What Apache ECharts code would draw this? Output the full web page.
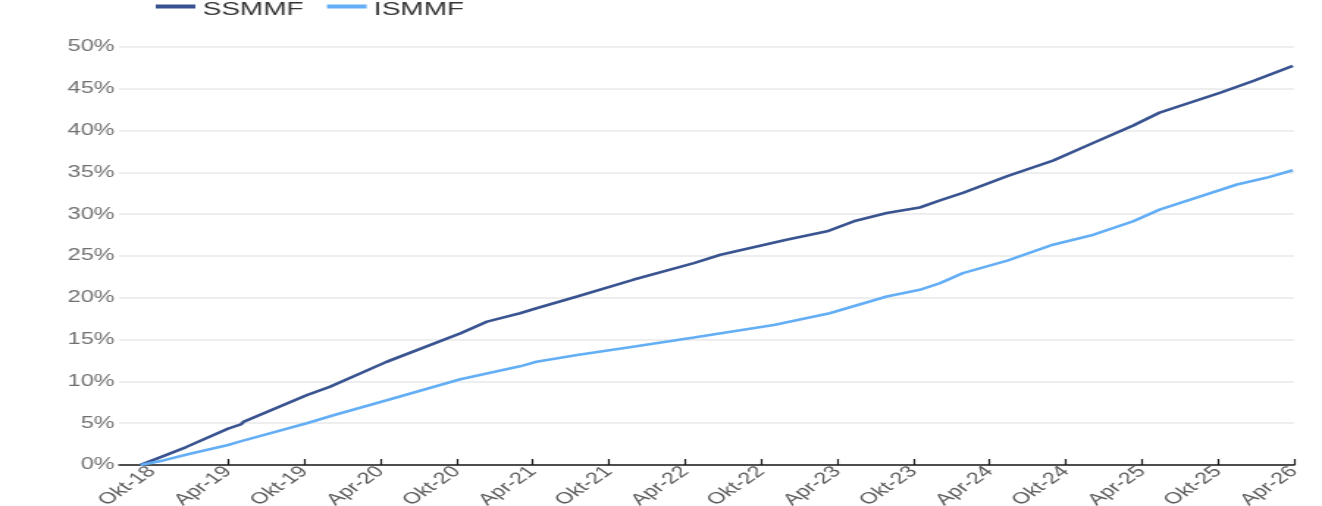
<!DOCTYPE html>
<html>
<head>
<meta charset="utf-8">
<script src="https://cdn.jsdelivr.net/npm/echarts@6/dist/echarts.min.js"></script>
<style>
  html, body { margin: 0; padding: 0; background: #fff; overflow: hidden; }
  /* the reference is drawn horizontally stretched, so render narrower and scale */
  #chart { width: 900px; height: 506px; transform: scaleX(1.4689); transform-origin: 0 0; }
</style>
</head>
<body>
<div id="chart"></div>
<script>
// x values are months counted from Okt-18 (0) to Apr-26 (90)
var tickMonths = [0, 6, 12, 18, 24, 30, 36, 42, 48, 54, 60, 66, 72, 78, 84, 90];
var monthNames = ['Jan', 'Feb', 'Mär', 'Apr', 'Mai', 'Jun', 'Jul', 'Aug', 'Sep', 'Okt', 'Nov', 'Dez'];

var ssmmfMonths = [-0.9, 2.7, 6.0, 7.0, 7.2, 12.2, 14.0, 18.5, 24.3, 26.4, 29.0, 30.3, 33.5, 37.9, 42.7, 44.8,
  50.0, 53.2, 55.3, 57.9, 60.5, 62.1, 63.9, 67.4, 71.0, 74.2, 77.3, 79.4, 84.2, 86.8, 89.9];
var ssmmfValues = [0, 2.15, 4.35, 4.85, 5.15, 8.35, 9.35, 12.35, 15.75, 17.15, 18.15, 18.75, 20.15, 22.15, 24.15, 25.15,
  26.95, 27.95, 29.15, 30.15, 30.8, 31.65, 32.55, 34.55, 36.4, 38.55, 40.6, 42.15, 44.55, 45.95, 47.75];

var ismmfMonths = [-0.9, 0.9, 3.0, 6.0, 6.9, 12.2, 14.3, 18.5, 24.3, 29.0, 30.3, 33.5, 37.9, 42.7,
  49.0, 53.4, 57.9, 60.5, 62.1, 63.9, 67.4, 71.0, 74.2, 77.3, 79.4, 85.5, 87.8, 89.9];
var ismmfValues = [0, 0.55, 1.35, 2.4, 2.8, 5.0, 5.95, 7.75, 10.25, 11.8, 12.35, 13.15, 14.15, 15.25,
  16.75, 18.15, 20.15, 20.95, 21.75, 22.95, 24.45, 26.35, 27.55, 29.15, 30.55, 33.55, 34.35, 35.25];

var pairs = function (xs, ys) {
  return xs.map(function (x, i) { return [x, ys[i]]; });
};

var monthLabel = function (m) {
  var idx = 9 + Math.round(m);
  return monthNames[idx % 12] + '-' + String(18 + Math.floor(idx / 12));
};

var myChart = echarts.init(document.getElementById('chart'));
var option = {
  animation: false,
  textStyle: { fontFamily: 'Liberation Sans, Arial, sans-serif' },
  legend: {
    top: 0,
    left: 106,
    padding: 0,
    itemWidth: 27,
    itemHeight: 10,
    itemGap: 16,
    // bar sits in the top part of the icon box so the text lands a little lower
    icon: 'path://M0,0H27V4H0ZM0,10L27,10',
    textStyle: { fontSize: 19, color: '#333' },
    data: ['SSMMF', 'ISMMF']
  },
  grid: {
    left: 81,
    right: 19,
    top: 47,
    bottom: 41,
    outerBoundsMode: 'none',
    containLabel: false
  },
  xAxis: {
    type: 'value',
    min: -2.6,
    max: 90,
    splitLine: { show: false },
    axisLine: { show: true, lineStyle: { color: '#1a1a1a', width: 1.5 } },
    axisTick: {
      show: true,
      inside: true,
      length: 6,
      customValues: tickMonths.slice(1),
      lineStyle: { color: '#1a1a1a', width: 1.2 }
    },
    axisLabel: {
      customValues: tickMonths,
      rotate: 45,
      margin: 4,
      fontSize: 16,
      color: '#5a5a5a',
      formatter: monthLabel
    }
  },
  yAxis: {
    type: 'value',
    min: 0,
    max: 50,
    interval: 5,
    axisLine: { show: false },
    axisTick: { show: false },
    splitLine: { lineStyle: { color: '#e8e8e8', width: 1.5 } },
    axisLabel: {
      margin: 3,
      fontSize: 16,
      color: '#707070',
      formatter: '{value}%'
    }
  },
  series: [
    {
      name: 'SSMMF',
      type: 'line',
      showSymbol: false,
      symbol: 'none',
      color: '#38538f',
      lineStyle: { width: 2.6 },
      data: pairs(ssmmfMonths, ssmmfValues)
    },
    {
      name: 'ISMMF',
      type: 'line',
      showSymbol: false,
      symbol: 'none',
      color: '#63aef5',
      lineStyle: { width: 2.6 },
      data: pairs(ismmfMonths, ismmfValues)
    }
  ]
};
myChart.setOption(option);
</script>
</body>
</html>
